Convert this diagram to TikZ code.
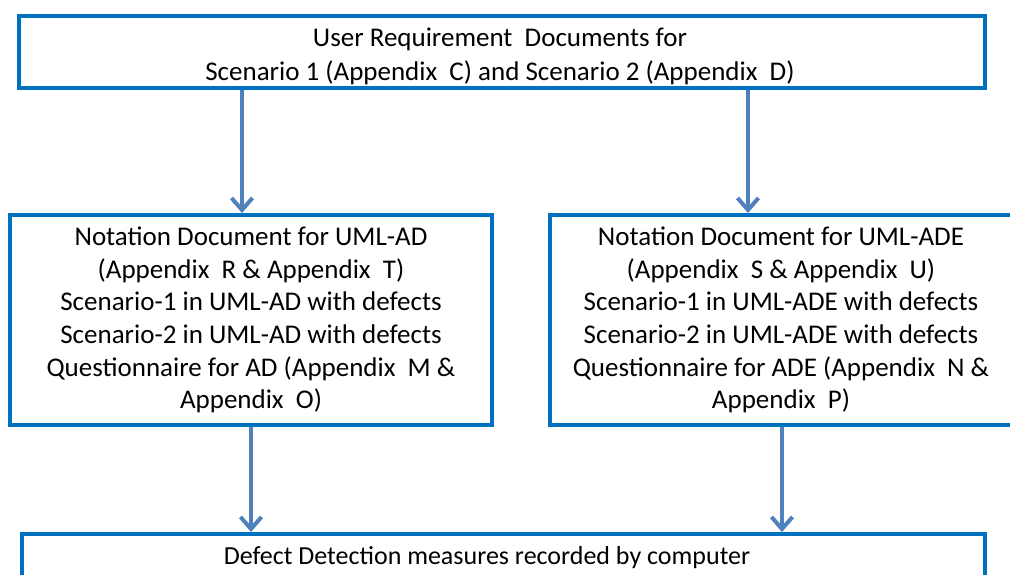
\documentclass[tikz,border=0pt]{standalone}
\usepackage{fontspec}
\setmainfont{Carlito}
\usetikzlibrary{arrows.meta}
\definecolor{boxblue}{RGB}{0,112,192}
\definecolor{arrowblue}{RGB}{79,129,189}
\tikzset{
  stagebox/.style={draw=boxblue, line width=4pt, fill=white, inner sep=0pt,
    align=center, font=\fontsize{27}{32.6}\selectfont},
  flow/.style={draw=arrowblue, line width=4pt,
    -{Straight Barb[length=12pt,width=21pt,line width=4pt]}},
  caption/.style={inner sep=0pt, align=center}
}
\begin{document}
\begin{tikzpicture}[x=1pt,y=-1pt]
\clip (0,0) rectangle (1010,574);
\fill[white] (0,0) rectangle (1010,574);

% source documents
\node[stagebox, minimum width=966pt, minimum height=72pt] (top) at (502,52) {};
\node[caption, font=\fontsize{27}{34}\selectfont] (toptxt) at (500,56.5)
  {User Requirement\ \ Documents for\\Scenario 1 (Appendix\ \ C) and Scenario 2 (Appendix\ \ D)};

% notation packages for the two notations
\node[stagebox, minimum width=482pt, minimum height=210pt] (left) at (251,320)
  {Notation Document for UML-AD\\(Appendix\ \ R \& Appendix\ \ T)\\Scenario-1 in UML-AD with defects\\Scenario-2 in UML-AD with defects\\Questionnaire for AD (Appendix\ \ M \&\\Appendix\ \ O)};
\node[stagebox, minimum width=462pt, minimum height=210pt] (right) at (781,320)
  {Notation Document for UML-ADE\\(Appendix\ \ S \& Appendix\ \ U)\\Scenario-1 in UML-ADE with defects\\Scenario-2 in UML-ADE with defects\\Questionnaire for ADE (Appendix\ \ N \&\\Appendix\ \ P)};

% measurement stage
\node[stagebox, minimum width=963pt, minimum height=100pt] (bot) at (503.5,584) {};
\node[caption, anchor=base, font=\fontsize{26}{33}\selectfont] (bottxt) at (487,564)
  {Defect Detection measures recorded by computer};

% connector columns
\coordinate (c1) at (242,0);
\coordinate (c2) at (748,0);
\coordinate (c3) at (251,0);
\coordinate (c4) at (782,0);

\draw[flow] (top.south -| c1) -- (left.north -| c1);
\draw[flow] (top.south -| c2) -- (right.north -| c2);
\draw[flow] (left.south -| c3) -- (bot.north -| c3);
\draw[flow] (right.south -| c4) -- (bot.north -| c4);
\end{tikzpicture}
\end{document}
